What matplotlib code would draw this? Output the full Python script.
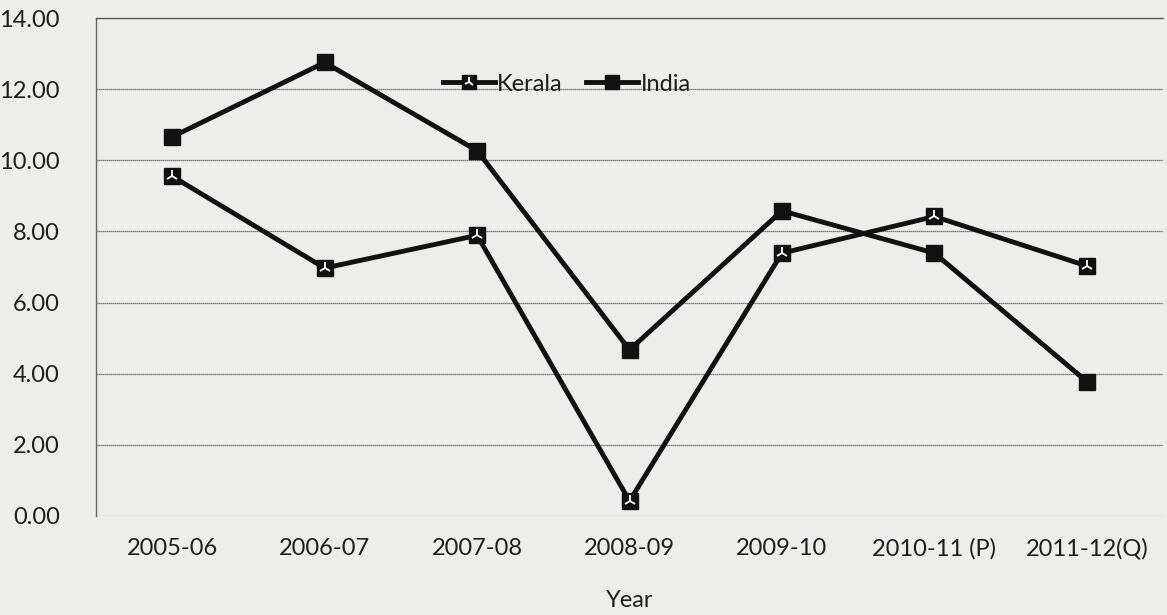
import matplotlib.pyplot as plt

# Growth rate (%)
years = ['2005-06', '2006-07', '2007-08', '2008-09', '2009-10', '2010-11 (P)', '2011-12(Q)']
kerala = [9.55, 6.97, 7.89, 0.42, 7.39, 8.42, 7.03]
india = [10.66, 12.75, 10.27, 4.67, 8.58, 7.39, 3.78]
yticks = [0, 2, 4, 6, 8, 10, 12, 14]

plt.rcParams['font.family'] = ['Lato', 'DejaVu Sans']
bg = '#ededeb'
ink = '#1e1e1e'

fig = plt.figure(figsize=(11.67, 6.15), dpi=100, facecolor=bg)
ax = fig.add_axes([0.0823, 0.161, 0.9143, 0.8097])
ax.set_facecolor(bg)

x = list(range(len(years)))
k_line, = ax.plot(x, kerala, color='#111111', linewidth=3.5, marker='s', markersize=12,
                  markerfacecolor='#111111', markeredgecolor='#111111', zorder=3)
k_star, = ax.plot(x, kerala, linestyle='none', marker='2', markersize=9, markeredgewidth=1.3,
                  color='white', zorder=4)
i_line, = ax.plot(x, india, color='#111111', linewidth=3.5, marker='s', markersize=12,
                  markerfacecolor='#111111', markeredgecolor='#111111', zorder=3)

ax.set_xlim(-0.5, 6.5)
ax.set_ylim(0, 14)
ax.set_yticks(yticks)
ax.set_yticklabels([f'{v:.2f}' for v in yticks])
ax.set_xticks(x)
ax.set_xticklabels(years)
ax.tick_params(axis='y', length=0, pad=26, labelsize=17, labelcolor=ink)
ax.tick_params(axis='x', length=0, pad=16, labelsize=17, labelcolor=ink)
ax.grid(axis='y', color='#555555', linestyle=(0, (1, 0.6)), linewidth=0.9)

for side in ['right', 'bottom']:
    ax.spines[side].set_visible(False)
ax.spines['left'].set_color('#666666')
ax.spines['left'].set_linewidth(1.0)
ax.spines['top'].set_color('#555555')
ax.spines['top'].set_linestyle((0, (1, 0.6)))
ax.spines['top'].set_linewidth(0.9)

ax.set_xlabel('Year', fontsize=17, color=ink, labelpad=22)

leg = ax.legend([(k_line, k_star), i_line], ['Kerala', 'India'], loc='center',
                bbox_to_anchor=(0.441, 0.867), ncol=2, frameon=False, fontsize=17,
                handlelength=2.2, handletextpad=0.1, columnspacing=1.0, markerscale=0.8)
for t in leg.get_texts():
    t.set_color(ink)

fig.savefig('out.png', dpi=100, facecolor=bg)
